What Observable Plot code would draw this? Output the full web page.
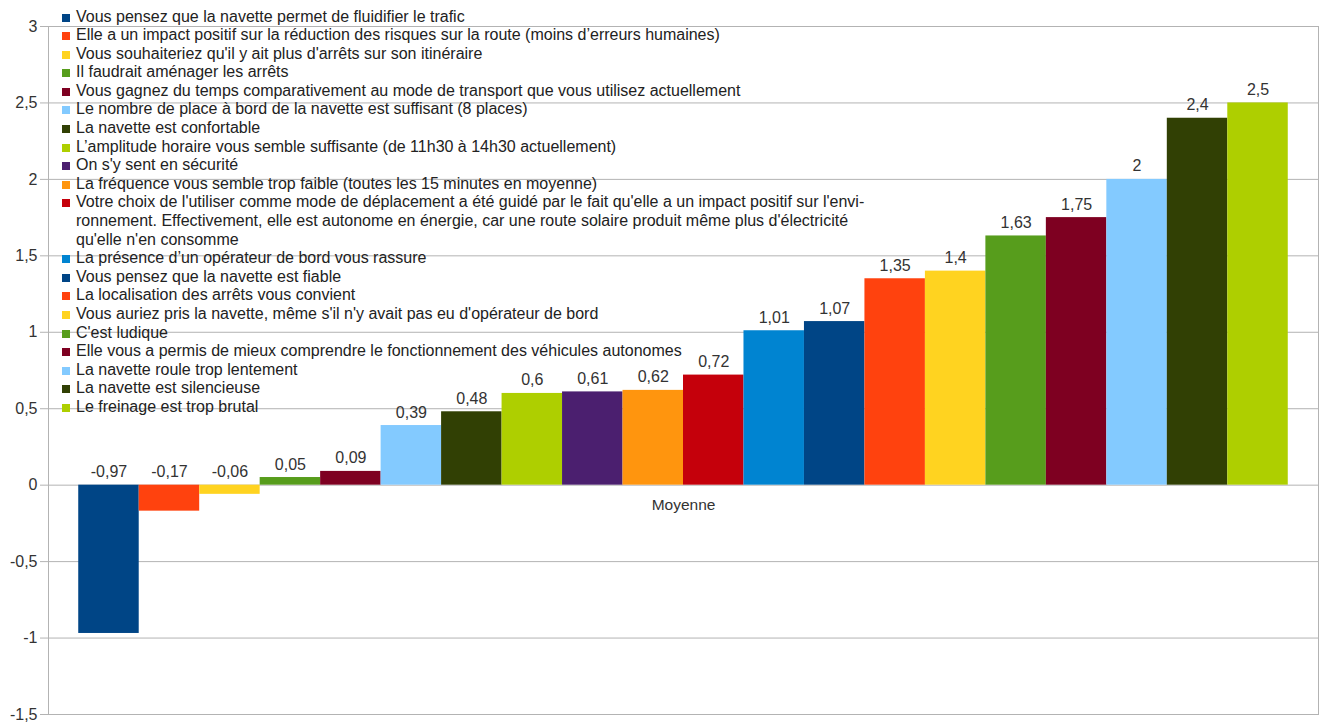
<!DOCTYPE html>
<html lang="fr">
<head>
<meta charset="utf-8">
<script src="https://cdn.jsdelivr.net/npm/d3@7"></script>
<script src="https://cdn.jsdelivr.net/npm/@observablehq/plot@0.6"></script>
<style>
  html, body { margin: 0; padding: 0; background: #fff; }
  #wrap { position: relative; width: 1319px; height: 722px; font-family: "Liberation Sans", Arial, sans-serif; }
  #legend { position: absolute; left: 62px; top: 7.5px; font-size: 16px; line-height: 18.6px; color: #222; pointer-events: none; }
  .item { display: flex; align-items: flex-start; }
  .sw { width: 8px; height: 8px; flex: none; margin-top: 6px; margin-right: 6px; }
  .lbl { white-space: pre; }
</style>
</head>
<body>
<div id="wrap"></div>
<script>
const categories = [
  "Vous pensez que la navette permet de fluidifier le trafic",
  "Elle a un impact positif sur la réduction des risques sur la route (moins d’erreurs humaines)",
  "Vous souhaiteriez qu'il y ait plus d'arrêts sur son itinéraire",
  "Il faudrait aménager les arrêts",
  "Vous gagnez du temps comparativement au mode de transport que vous utilisez actuellement",
  "Le nombre de place à bord de la navette est suffisant (8 places)",
  "La navette est confortable",
  "L’amplitude horaire vous semble suffisante (de 11h30 à 14h30 actuellement)",
  "On s'y sent en sécurité",
  "La fréquence vous semble trop faible (toutes les 15 minutes en moyenne)",
  "Votre choix de l'utiliser comme mode de déplacement a été guidé par le fait qu'elle a un impact positif sur l'envi-\nronnement. Effectivement, elle est autonome en énergie, car une route solaire produit même plus d'électricité\nqu'elle n'en consomme",
  "La présence d’un opérateur de bord vous rassure",
  "Vous pensez que la navette est fiable",
  "La localisation des arrêts vous convient",
  "Vous auriez pris la navette, même s'il n'y avait pas eu d'opérateur de bord",
  "C'est ludique",
  "Elle vous a permis de mieux comprendre le fonctionnement des véhicules autonomes",
  "La navette roule trop lentement",
  "La navette est silencieuse",
  "Le freinage est trop brutal"
];
const values = [-0.97, -0.17, -0.06, 0.05, 0.09, 0.39, 0.48, 0.6, 0.61, 0.62, 0.72, 1.01, 1.07, 1.35, 1.4, 1.63, 1.75, 2, 2.4, 2.5];
const colors = [
  "#004586", "#ff420e", "#ffd320", "#579d1c", "#7e0021", "#83caff", "#314004", "#aecf00", "#4b1f6f", "#ff950e",
  "#c5000b", "#0084d1", "#004586", "#ff420e", "#ffd320", "#579d1c", "#7e0021", "#83caff", "#314004", "#aecf00"
];
const yTicks = [-1.5, -1, -0.5, 0, 0.5, 1, 1.5, 2, 2.5, 3];
const xAxisLabel = "Moyenne";

const data = categories.map((c, i) => ({label: c, value: values[i]}));
const fmt = v => String(v).replace(".", ",");
const gridColor = "#b3b3b3";

const chart = Plot.plot({
  width: 1319,
  height: 722,
  marginLeft: 48,
  marginRight: 1,
  marginTop: 26,
  marginBottom: 8,
  style: {fontFamily: "'Liberation Sans', Arial, sans-serif", fontSize: "16px", color: "#333", background: "#fff"},
  x: {domain: categories, paddingInner: 0, paddingOuter: 0.5, round: false, axis: null},
  y: {domain: [-1.5, 3], axis: null},
  color: {domain: categories, range: colors},
  marks: [
    Plot.gridY(yTicks, {stroke: gridColor, strokeOpacity: 1}),
    Plot.frame({stroke: gridColor}),
    Plot.barY(data, {x: "label", y: "value", fill: "label"}),
    Plot.text(data, {x: "label", y: d => Math.max(0, d.value), text: d => fmt(d.value), dy: -8, lineAnchor: "bottom", fontSize: 16, fill: "#333"}),
    Plot.axisY(yTicks, {tickFormat: fmt, tickSize: 8, tickPadding: 3, stroke: gridColor, strokeOpacity: 1, fontSize: 16, fill: "#333", label: null}),
    Plot.text([xAxisLabel], {y: [0], text: d => d, dy: 14, lineAnchor: "top", fontSize: 15.5, fill: "#333"})
  ]
});

const wrap = document.getElementById("wrap");
wrap.appendChild(chart);

const legend = document.createElement("div");
legend.id = "legend";
categories.forEach((c, i) => {
  const item = document.createElement("div");
  item.className = "item";
  const sw = document.createElement("span");
  sw.className = "sw";
  sw.style.background = colors[i];
  const lbl = document.createElement("span");
  lbl.className = "lbl";
  lbl.textContent = c;
  item.appendChild(sw);
  item.appendChild(lbl);
  legend.appendChild(item);
});
wrap.appendChild(legend);
</script>
</body>
</html>
